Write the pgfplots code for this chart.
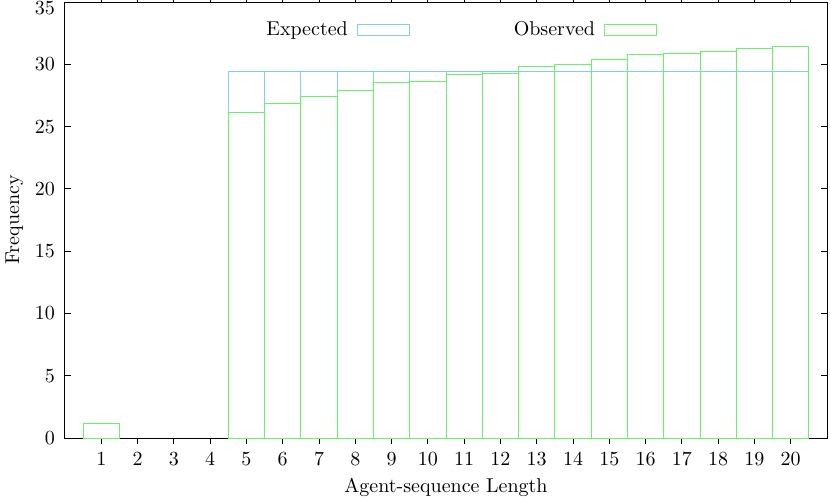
\documentclass[border=0pt]{standalone}
\usepackage{pgfplots}
\pgfplotsset{compat=1.18}
\definecolor{expc}{RGB}{128,204,255}
\definecolor{obsc}{RGB}{102,245,102}
\begin{document}
\begin{tikzpicture}
\begin{axis}[
  scale only axis, width=381pt, height=218pt,
  xmin=0, xmax=21, ymin=0, ymax=35,
  xtick={1,...,20}, ytick={0,5,...,30},
  extra y ticks={35},
  extra y tick style={yticklabel style={yshift=-3pt}},
  tick align=inside, major tick length=3pt,
  tick style={black, line width=0.4pt},
  axis line style={black, line width=0.5pt},
  yticklabel style={xshift=-1.5pt},
  xticklabel style={yshift=-1pt},
  xlabel={Agent-sequence Length}, ylabel={Frequency},
  xlabel style={yshift=1pt}, ylabel style={yshift=-1pt},
  ybar, bar width=1, bar shift=0pt,
  legend columns=2, legend plot pos=right,
  legend style={draw=none, fill=none, at={(0.518,0.936)}, anchor=center,
    /tikz/every odd column/.append style={column sep=2.5pt},
    /tikz/every even column/.append style={column sep=50pt}},
]
\addplot[draw=expc, fill=none, line width=0.5pt,
  legend image code/.code={\draw[draw=expc, line width=0.5pt] (0pt,-2.6pt) rectangle (26pt,2.6pt);}]
  coordinates {(5,29.45) (6,29.45) (7,29.45) (8,29.45) (9,29.45) (10,29.45) (11,29.45) (12,29.45) (13,29.45) (14,29.45) (15,29.45) (16,29.45) (17,29.45) (18,29.45) (19,29.45) (20,29.45)};
\addlegendentry{Expected}
\addplot[draw=obsc, fill=none, line width=0.5pt,
  legend image code/.code={\draw[draw=obsc, line width=0.5pt] (0pt,-2.6pt) rectangle (26pt,2.6pt);}]
  coordinates {(1,1.15) (5,26.15) (6,26.85) (7,27.45) (8,27.9) (9,28.5) (10,28.65) (11,29.2) (12,29.3) (13,29.85) (14,30.0) (15,30.35) (16,30.8) (17,30.9) (18,31.0) (19,31.3) (20,31.45)};
\addlegendentry{Observed}
\end{axis}
\pgfresetboundingbox
\path (-32.5pt,-30pt) rectangle (382.5pt,219pt);
\end{tikzpicture}
\end{document}
